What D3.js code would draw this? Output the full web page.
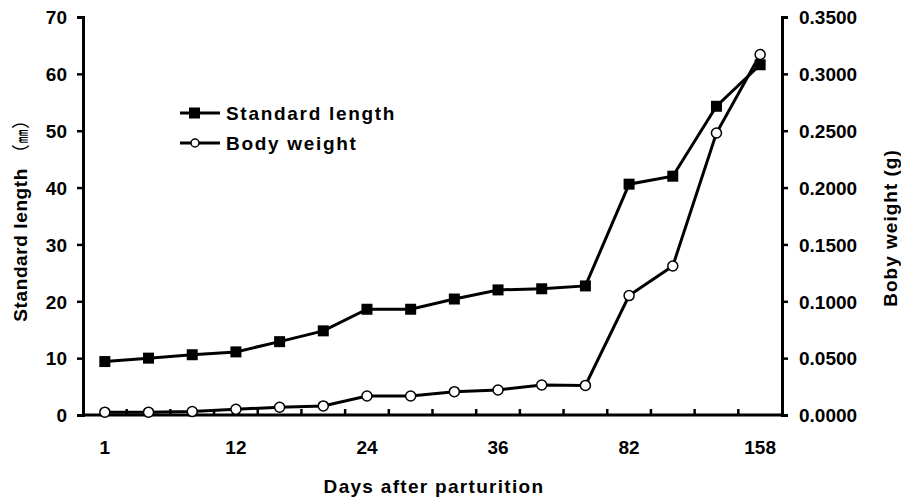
<!DOCTYPE html>
<html>
<head>
<meta charset="utf-8">
<script src="https://cdn.jsdelivr.net/npm/d3@7"></script>
<style>
  body { margin: 0; background: #fff; }
  text { font-family: "Liberation Sans", Arial, sans-serif; font-weight: bold; fill: #000; }
</style>
</head>
<body>
<div class="canvas"></div>
<script>
const days = ['1','4','8','12','16','20','24','28','32','36','40','44','82','100','130','158'];
const dayLabels = {0: '1', 3: '12', 6: '24', 9: '36', 12: '82', 15: '158'};
const standardLength = [9.4, 10.0, 10.6, 11.1, 12.9, 14.8, 18.6, 18.6, 20.4, 22.0, 22.2, 22.7, 40.6, 42.0, 54.3, 61.6];
const bodyWeight = [0.0025, 0.0025, 0.003, 0.005, 0.0068, 0.008, 0.0167, 0.0167, 0.0205, 0.022, 0.0264, 0.026, 0.105, 0.131, 0.248, 0.317];
const leftTicks = [0, 10, 20, 30, 40, 50, 60, 70];
const rightTicks = [0, 0.05, 0.1, 0.15, 0.2, 0.25, 0.3, 0.35];

const dims = {width: 901, height: 501};
const margin = {top: 17, right: 119, bottom: 86, left: 83};
const w = dims.width - margin.left - margin.right;
const h = dims.height - margin.top - margin.bottom;

const svg = d3.select('.canvas')
    .append('svg')
    .attr('width', dims.width)
    .attr('height', dims.height);

const graph = svg.append('g')
    .attr('transform', `translate(${margin.left}, ${margin.top})`);

const x = d3.scaleBand().domain(days).range([0, w]);
const xc = d => x(d) + x.bandwidth() / 2;
const yL = d3.scaleLinear().domain([0, 70]).range([h, 0]);
const yR = d3.scaleLinear().domain([0, 0.35]).range([h, 0]);

// axes
const leftAxis = d3.axisLeft(yL).tickValues(leftTicks).tickSize(6).tickPadding(10);
const rightAxis = d3.axisRight(yR).tickValues(rightTicks).tickSize(6).tickPadding(11)
    .tickFormat(d3.format('.4f'));

const gl = graph.append('g').call(leftAxis);
const gr = graph.append('g').attr('transform', `translate(${w}, 0)`).call(rightAxis);
[gl, gr].forEach(g => {
    g.select('.domain').attr('stroke', '#000').attr('stroke-width', 3);
    g.selectAll('.tick line').attr('stroke', '#000').attr('stroke-width', 2.5);
    g.selectAll('.tick text').style('font-size', '19px').attr('dy', '0.36em');
});

// x axis: baseline plus inward ticks at band boundaries
graph.append('line')
    .attr('x1', 0).attr('x2', w).attr('y1', h).attr('y2', h)
    .attr('stroke', '#000').attr('stroke-width', 3);
graph.selectAll('.xtick')
    .data(days.slice(1))
    .enter().append('line')
    .attr('x1', d => x(d)).attr('x2', d => x(d))
    .attr('y1', h).attr('y2', h - 6)
    .attr('stroke', '#000').attr('stroke-width', 2.5);
graph.selectAll('.xlabel')
    .data(days.filter((d, i) => dayLabels[i]))
    .enter().append('text')
    .attr('x', d => xc(d))
    .attr('y', h + 39)
    .attr('text-anchor', 'middle')
    .style('font-size', '19px')
    .text(d => dayLabels[days.indexOf(d)]);

// titles
svg.append('text')
    .attr('x', 434)
    .attr('y', 493)
    .attr('text-anchor', 'middle')
    .style('font-size', '19px')
    .style('letter-spacing', '1.3px')
    .text('Days after parturition');

const lt = svg.append('text')
    .attr('transform', 'translate(27, 216) rotate(-90)')
    .attr('text-anchor', 'middle')
    .style('font-size', '19px')
    .style('letter-spacing', '0.6px');
lt.append('tspan').text('Standard length ');
lt.append('tspan').style('font-family', '"Noto Sans CJK SC"').style('font-weight', 'normal')
    .style('font-size', '18px').text('（');
lt.append('tspan').style('font-family', '"Noto Sans CJK SC"').style('font-weight', 'normal')
    .style('font-size', '14px').text('㎜');
lt.append('tspan').style('font-family', '"Noto Sans CJK SC"').style('font-weight', 'normal')
    .style('font-size', '18px').text('）');

svg.append('text')
    .attr('transform', 'translate(897, 228) rotate(-90)')
    .attr('text-anchor', 'middle')
    .style('font-size', '19px')
    .style('letter-spacing', '1px')
    .text('Boby weight (g)');

// series
const lineL = d3.line().x((d, i) => xc(days[i])).y(d => yL(d));
const lineR = d3.line().x((d, i) => xc(days[i])).y(d => yR(d));

graph.append('path')
    .datum(standardLength)
    .attr('d', lineL)
    .attr('fill', 'none').attr('stroke', '#000').attr('stroke-width', 3);
graph.selectAll('.sq')
    .data(standardLength)
    .enter().append('rect')
    .attr('x', (d, i) => xc(days[i]) - 5.5)
    .attr('y', d => yL(d) - 5.5)
    .attr('width', 11).attr('height', 11)
    .attr('fill', '#000');

graph.append('path')
    .datum(bodyWeight)
    .attr('d', lineR)
    .attr('fill', 'none').attr('stroke', '#000').attr('stroke-width', 3);
graph.selectAll('.ci')
    .data(bodyWeight)
    .enter().append('circle')
    .attr('cx', (d, i) => xc(days[i]))
    .attr('cy', d => yR(d))
    .attr('r', 5)
    .attr('fill', '#fff').attr('stroke', '#000').attr('stroke-width', 1.5);

// legend
const legend = svg.append('g').attr('transform', 'translate(180, 113)');
const items = [{name: 'Standard length', type: 'sq'}, {name: 'Body weight', type: 'ci'}];
items.forEach((it, i) => {
    const g = legend.append('g').attr('transform', `translate(0, ${i * 30})`);
    g.append('line').attr('x1', 0).attr('x2', 40).attr('stroke', '#000').attr('stroke-width', 3);
    if (it.type === 'sq') {
        g.append('rect').attr('x', 9).attr('y', -5.5).attr('width', 11).attr('height', 11).attr('fill', '#000');
    } else {
        g.append('circle').attr('cx', 15).attr('r', 4).attr('fill', '#fff').attr('stroke', '#000').attr('stroke-width', 1.5);
    }
    g.append('text').attr('x', 46).attr('dy', '0.36em')
        .style('font-size', '19px').style('letter-spacing', '1.7px').text(it.name);
});
</script>
</body>
</html>
